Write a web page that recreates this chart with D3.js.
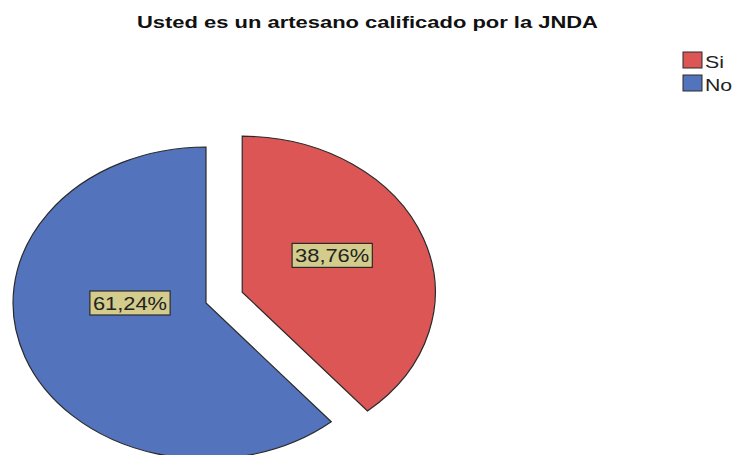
<!DOCTYPE html>
<html>
<head>
<meta charset="utf-8">
<script src="https://cdn.jsdelivr.net/npm/d3@7"></script>
<style>
  body { margin: 0; background: #fff; }
  text { font-family: "Liberation Sans", Arial, sans-serif; }
</style>
</head>
<body>
<svg id="chart-svg"></svg>
<script>
const categories = ["Si", "No"];
const percents = [38.76, 61.24];
const labels = ["38,76%", "61,24%"];
const colors = ["#dc5656", "#5473bd"];

const svgWidth = 733;
const svgHeight = 455;
const cx = 206;
const cy = 303;
const rx = 193;
const ry = 156;
const explode = [0.2, 0];
// where the value boxes sit, in unit-radius coords from each slice's apex
const labelAt = [[0.466, -0.236], [-0.394, 0]];

const svg = d3.select("#chart-svg")
  .attr("width", svgWidth)
  .attr("height", svgHeight);

// the original output is stretched sideways, so widen text to match
function stretch(sel, k) {
  sel.each(function () {
    const w = this.getComputedTextLength();
    d3.select(this)
      .attr("textLength", w * k)
      .attr("lengthAdjust", "spacingAndGlyphs");
  });
}

svg.append("text")
  .attr("x", 367.5)
  .attr("y", 28)
  .attr("text-anchor", "middle")
  .style("font-weight", "bold")
  .style("font-size", "16.5px")
  .attr("fill", "#111")
  .text("Usted es un artesano calificado por la JNDA")
  .call(stretch, 1.33);

const pie = d3.pie().sort(null).value(d => d)(percents);
const arc = d3.arc().innerRadius(0).outerRadius(1);

const slices = svg.selectAll(".slice")
  .data(pie)
  .join("g")
  .attr("class", "slice")
  .attr("transform", (d, i) => {
    const mid = (d.startAngle + d.endAngle) / 2;
    const ox = explode[i] * Math.sin(mid) * rx;
    const oy = -explode[i] * Math.cos(mid) * ry;
    return `translate(${cx + ox}, ${cy + oy})`;
  });

slices.append("path")
  .attr("transform", `scale(${rx}, ${ry})`)
  .attr("d", arc)
  .attr("fill", (d, i) => colors[i])
  .attr("stroke", "#2a2a2a")
  .attr("stroke-width", 1.2)
  .attr("vector-effect", "non-scaling-stroke");

slices.each(function (d, i) {
  const g = d3.select(this);
  const lx = labelAt[i][0] * rx;
  const ly = labelAt[i][1] * ry;
  const t = g.append("text")
    .attr("x", lx)
    .attr("y", ly + 7)
    .attr("text-anchor", "middle")
    .style("font-size", "19px")
    .attr("fill", "#222")
    .text(labels[i])
    .call(stretch, 1.15);
  const bb = t.node().getBBox();
  g.insert("rect", "text")
    .attr("x", bb.x - 3)
    .attr("y", ly - 12)
    .attr("width", bb.width + 6)
    .attr("height", 24)
    .attr("fill", "#d3cc8c")
    .attr("stroke", "#2a2a2a")
    .attr("stroke-width", 1.2);
});

const legend = svg.append("g").attr("transform", "translate(683, 52)");
const items = legend.selectAll("g")
  .data(categories)
  .join("g")
  .attr("transform", (d, i) => `translate(0, ${i * 23})`);
items.append("rect")
  .attr("width", 19)
  .attr("height", 16)
  .attr("fill", (d, i) => colors[i])
  .attr("stroke", "#2a2a2a")
  .attr("stroke-width", 1);
items.append("text")
  .attr("x", 22)
  .attr("y", 16)
  .style("font-size", "17px")
  .attr("fill", "#222")
  .text(d => d)
  .call(stretch, 1.25);
</script>
</body>
</html>
